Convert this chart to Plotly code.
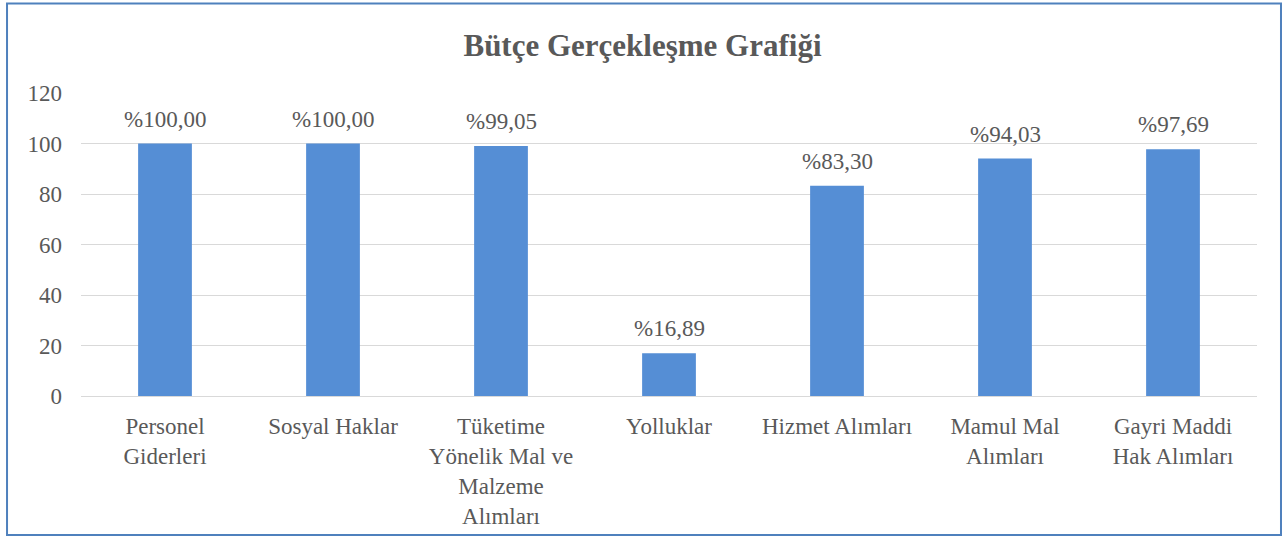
import plotly.graph_objects as go

categories = [
    "Personel<br>Giderleri",
    "Sosyal Haklar",
    "Tüketime<br>Yönelik Mal ve<br>Malzeme<br>Alımları",
    "Yolluklar",
    "Hizmet Alımları",
    "Mamul Mal<br>Alımları",
    "Gayri Maddi<br>Hak Alımları",
]
values = [100.00, 100.00, 99.05, 16.89, 83.30, 94.03, 97.69]
value_labels = ["%100,00", "%100,00", "%99,05", "%16,89", "%83,30", "%94,03", "%97,69"]
y_ticks = [0, 20, 40, 60, 80, 100, 120]

FONT = "Liberation Serif"
GRAY = "#595959"

fig = go.Figure()
fig.add_trace(go.Bar(
    x=categories, y=values,
    marker=dict(color="#558ED5", line=dict(width=0)),
    hoverinfo="skip",
))

for c, v, t in zip(categories, values, value_labels):
    fig.add_annotation(
        x=c, y=v, text=t, showarrow=False,
        yanchor="bottom", yshift=10,
        font=dict(family=FONT, size=23, color=GRAY),
    )

# Chart border
fig.add_shape(
    type="rect", xref="paper", yref="paper",
    x0=-0.0629, x1=1.0204, y0=-0.459, y1=1.295,
    line=dict(color="#4F81BD", width=2), fillcolor="rgba(0,0,0,0)",
    layer="below",
)

fig.update_layout(
    width=1285, height=541,
    margin=dict(l=81, r=28, t=93, b=143),
    paper_bgcolor="white", plot_bgcolor="white",
    bargap=0.68,
    showlegend=False,
    title=dict(
        text="<b>Bütçe Gerçekleşme Grafiği</b>",
        x=0.5, xref="container", xanchor="center",
        y=1 - 45 / 541, yref="container", yanchor="middle",
        font=dict(family=FONT, size=31, color=GRAY),
    ),
    font=dict(family=FONT, color=GRAY),
)

fig.update_xaxes(
    showgrid=False, showline=False, ticks="",
    tickfont=dict(family=FONT, size=23, color=GRAY),
    tickangle=0,
    ticklabelstandoff=14,
)
fig.update_yaxes(
    range=[0, 120], tickvals=y_ticks,
    showgrid=True, gridcolor="#D9D9D9", gridwidth=1,
    zeroline=True, zerolinecolor="#D9D9D9", zerolinewidth=1,
    showline=False, ticks="",
    tickfont=dict(family=FONT, size=23, color=GRAY),
    ticklabelstandoff=18,
)

fig.write_html("out.html", config={"displayModeBar": False})
